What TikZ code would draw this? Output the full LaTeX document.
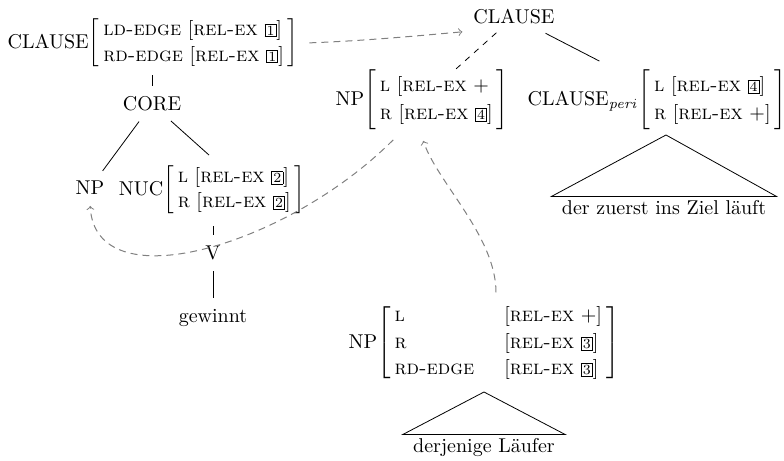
\documentclass[tikz,border=0pt]{standalone}
\usetikzlibrary{arrows, positioning}

\newcommand{\ft}[1]{\textsc{#1}}
\newcommand{\tagb}[1]{{\setlength{\fboxsep}{0.6pt}\fbox{\scriptsize #1}}}
\newcommand{\rx}[1]{[\ft{rel-ex} #1]}
\newcommand{\avm}[3][1.1]{$\renewcommand{\arraystretch}{#1}\left[\begin{tabular}{@{\hspace{2pt}}#2@{\hspace{2pt}}}#3\end{tabular}\right]$}

\begin{document}
\begin{tikzpicture}[x=0.5pt, y=-0.5pt,
    branch/.style={shorten <=2pt, shorten >=2pt},
    link/.style={->, gray, line width=0.5pt, dash pattern=on 3.5pt off 2.5pt,
      shorten <=2pt, shorten >=2pt},
    roof/.style={inner xsep=5pt, inner ysep=2pt}]
  \useasboundingbox (0,0) rectangle (784,461);

  % Nodes
  \node[inner ysep=1pt] (clausel) at (153,43) {CLAUSE\avm[1.08]{l}{\ft{ld-edge} \rx{\tagb{1}}\\ \ft{rd-edge} \rx{\tagb{1}}}};
  \node (core) at (152,104) {CORE};
  \node (npcore) at (90,188) {NP};
  \node (nuc) at (212,190) {NUC\avm[1.05]{l}{\ft{l} \rx{\tagb{2}}\\ \ft{r} \rx{\tagb{2}}}};
  \node (v) at (213,253) {V};
  \node (gewinnt) at (213,318) {gewinnt};

  \node (clauser) at (514,17) {CLAUSE};
  \node (npup) at (422,100) {NP\avm[1.15]{l}{\ft{l} [\ft{rel-ex} +\\ \ft{r} \rx{\tagb{4}}}};
  \node (peri) at (657,100) {CLAUSE$_{\mathit{peri}}$\avm[1.15]{l}{\ft{l} \rx{\tagb{4}}\\ \ft{r} [\ft{rel-ex} +]}};
  \node[roof] (perilex) at (664,208) {der zuerst ins Ziel läuft};
  \coordinate (periroof) at (666,135);

  \node (nplow) at (484,343) {NP\avm[1.1]{l@{\hspace{15pt}}l}{\ft{l} & [\ft{rel-ex} +]\\ \ft{r} & \rx{\tagb{3}}\\ \ft{rd-edge} & \rx{\tagb{3}}}};
  \node[roof] (lowlex) at (484,448) {derjenige Läufer};
  \coordinate (lowroof) at (484,392);

  % Edges
  \draw[branch] (clausel.south -| core) -- (core);
  \draw[branch] (core) -- (npcore);
  \draw[branch] (core) -- (nuc.north);
  \draw[branch] (nuc.south -| v) -- (v);
  \draw[branch] (v) -- (gewinnt);
  \draw[dashed, shorten <=1pt] (clauser) -- ([xshift=17pt, yshift=-3pt]npup.north);
  \draw[branch] (clauser) -- ([xshift=-27pt]peri.north);

  % Roofs
  \draw (periroof) -- (perilex.north west) -- (perilex.north east) -- cycle;
  \draw (lowroof) -- (lowlex.north west) -- (lowlex.north east) -- cycle;

  % Links
  \draw[link] (clausel.east) .. controls +(55,-2) and +(-55,5) .. (clauser.south west);
  \draw[link] ([xshift=-13pt]npup.south) .. controls +(-110,110) and +(5,100) .. (npcore.south);
  \draw[link] ([xshift=6pt]nplow.north) .. controls +(0,-60) and +(15,45) .. (npup.south);
\end{tikzpicture}
\end{document}
